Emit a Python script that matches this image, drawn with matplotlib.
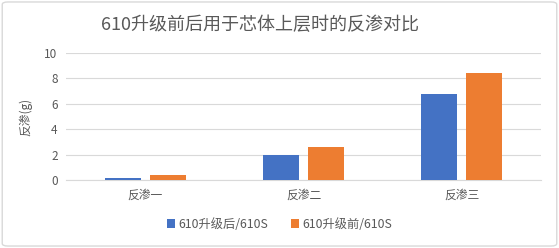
import matplotlib
matplotlib.use("Agg")
import matplotlib.pyplot as plt
import numpy as np
from matplotlib.patches import FancyBboxPatch

plt.rcParams['font.family'] = ['Noto Sans CJK SC', 'DejaVu Sans']

# datos
categorias = ['反渗一', '反渗二', '反渗三']
despues = [0.15, 2.0, 6.8]   # 610升级后/610S
antes = [0.4, 2.6, 8.4]      # 610升级前/610S
series = ['610升级后/610S', '610升级前/610S']
yticks = [0, 2, 4, 6, 8, 10]

gris = '#595959'
fig = plt.figure(figsize=(5.59, 2.48), dpi=100)
borde = FancyBboxPatch((0.004, 0.008), 0.992, 0.984, boxstyle='round,pad=0,rounding_size=0.01',
                       transform=fig.transFigure, facecolor='white', edgecolor='#D9D9D9',
                       lw=1, zorder=-5)
fig.patches.append(borde)

ax = fig.add_axes([0.118, 0.274, 0.85, 0.512])
ax.patch.set_alpha(0)
x = np.arange(len(categorias))
ancho = 0.228
ax.bar(x - 0.142, despues, ancho, color='#4472C4', label=series[0], zorder=3)
ax.bar(x + 0.142, antes, ancho, color='#ED7D31', label=series[1], zorder=3)

ax.set_xlim(-0.5, 2.5)
ax.set_ylim(0, 10)
ax.set_yticks(yticks)
ax.set_xticks(x)
ax.set_xticklabels(categorias, fontsize=8.5)
ax.grid(axis='y', color='#D9D9D9', lw=0.8, zorder=0)
for lado in ['top', 'right', 'left']:
    ax.spines[lado].set_visible(False)
ax.spines['bottom'].set_color('#D9D9D9')
ax.tick_params(axis='both', length=0, colors=gris, labelsize=8.5, pad=6)
ax.set_ylabel('反渗(g)', color=gris, fontsize=8.5, labelpad=9)

fig.text(0.465, 0.9, '610升级前后用于芯体上层时的反渗对比', ha='center', va='center',
         fontsize=13, color=gris)

fig.legend(loc='center', bbox_to_anchor=(0.5, 0.095), ncol=2, frameon=False,
           fontsize=8.8, labelcolor=gris, handlelength=0.7, handleheight=0.7,
           handletextpad=0.3, columnspacing=1.8)

fig.savefig('out.png', dpi=100)
